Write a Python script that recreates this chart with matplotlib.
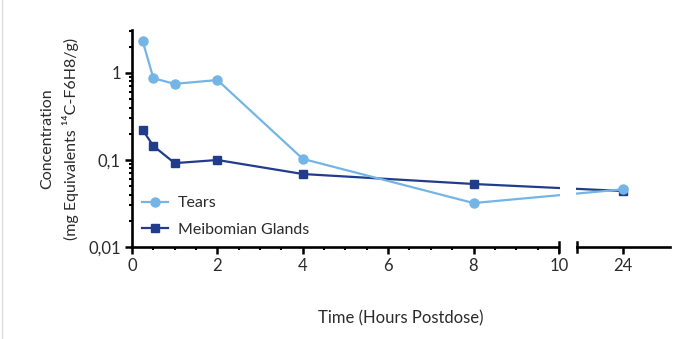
import numpy as np
import matplotlib
matplotlib.use("Agg")
import matplotlib.pyplot as plt
from matplotlib.patches import Rectangle
from matplotlib.lines import Line2D
import matplotlib.transforms as mtransforms

plt.rcParams['font.family'] = ['Lato', 'DejaVu Sans']

# data
hours = [0.25, 0.5, 1, 2, 4, 8, 24]
tears = [2.33, 0.87, 0.75, 0.83, 0.103, 0.032, 0.046]
meibomian = [0.221, 0.145, 0.092, 0.100, 0.069, 0.053, 0.044]
xtick_labels = ['0', '2', '4', '6', '8', '10', '24']
xtick_hours = [0, 2, 4, 6, 8, 10, 24]

# broken axis: hour 24 is drawn at position 11.5
def to_pos(h):
    return h if h <= 10 else 11.5

text_col = '#2b2b2b'
light = '#74B5E6'
dark = '#223C8C'

fig = plt.figure(figsize=(7, 3.39), dpi=100)
ax = fig.add_axes([0.1886, 0.2714, 0.957 - 0.1886, 0.9115 - 0.2714])

xp = [to_pos(h) for h in hours]
ax.plot(xp, tears, color=light, lw=1.6, marker='o', ms=6.5, label='Tears', zorder=2, clip_on=False)
ax.plot(xp, meibomian, color=dark, lw=1.6, marker='s', ms=6, label='Meibomian Glands', zorder=1.9, clip_on=False)

ax.set_yscale('log')
ax.set_ylim(0.01, 3.12)
ax.set_xlim(0, 12.6)
ax.set_yticks([0.01, 0.1, 1])
ax.set_yticklabels(['0,01', '0,1', '1'])
ax.set_xticks([to_pos(h) for h in xtick_hours])
ax.set_xticklabels(xtick_labels)
ax.set_xticks([m for m in np.arange(0.5, 10, 0.5) if m % 2 != 0], minor=True)

for s in ['top', 'right']:
    ax.spines[s].set_visible(False)
for s in ['left', 'bottom']:
    ax.spines[s].set_linewidth(1.9)
    ax.spines[s].set_color('black')

ax.tick_params(which='major', direction='out', length=5, width=1.8, color='black',
               labelsize=12, labelcolor=text_col, pad=3)
ax.tick_params(which='minor', direction='out', length=2.5, width=1.5, color='black')

# break in the x axis
trans = mtransforms.blended_transform_factory(ax.transData, ax.transAxes)
ax.add_patch(Rectangle((10.03, -0.04), 0.36, 1.1, transform=trans, facecolor='white',
                       edgecolor='none', clip_on=False, zorder=5))
for xb in [10.0, 10.42]:
    ax.add_line(Line2D([xb, xb], [-0.025, 0.025], transform=trans, color='black',
                       lw=1.8, clip_on=False, zorder=6))

ax.set_xlabel('Time (Hours Postdose)', fontsize=12, color=text_col, labelpad=26)
ax.set_ylabel('Concentration\n(mg Equivalents \u00b9\u2074C-F6H8/g)', fontsize=11.5,
              color=text_col, labelpad=7, linespacing=1.5)

leg = ax.legend(loc='lower left', bbox_to_anchor=(0.0, 0.0), frameon=False, fontsize=11.5,
                handlelength=1.6, handletextpad=0.6, labelspacing=0.75, borderaxespad=0.25)
for t in leg.get_texts():
    t.set_color(text_col)

# thin frame line at the left edge
fig.add_artist(Line2D([0.003, 0.003], [0, 1], transform=fig.transFigure, color='#dddddd', lw=1))

fig.savefig('out.png', dpi=100)
